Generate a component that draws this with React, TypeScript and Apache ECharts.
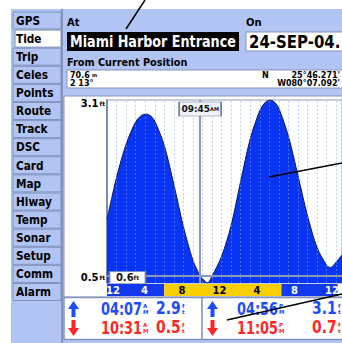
import React, { useEffect, useRef } from "react";
import * as echarts from "echarts";

// ---------- data ----------
const tabs = ["GPS", "Tide", "Trip", "Celes", "Points", "Route", "Track", "DSC", "Card", "Map", "Hiway", "Temp", "Sonar", "Setup", "Comm", "Alarm"];
const activeTab = "Tide";
const stationName = "Miami Harbor Entrance";
const dateLabel = "24-SEP-04.";
const distanceLabel = "70.6";
const bearingLabel = "2 13°";
const latHemi = "N";
const latLabel = "25°46.271'";
const lonLabel = "W080°07.092'";

const tideHours = [0, 1, 2, 3, 3.6, 4.1, 4.6, 5, 6, 7, 8, 9, 9.75, 10, 10.5, 11, 12, 13, 14, 15, 16, 16.6, 17.1, 17.6, 18, 19, 20, 21, 22, 23, 23.4, 24, 24.6];
const tideFeet = [1.40, 2.00, 2.47, 2.79, 2.88, 2.90, 2.87, 2.80, 2.45, 1.90, 1.30, 0.82, 0.60, 0.56, 0.50, 0.60, 0.88, 1.32, 1.95, 2.55, 2.95, 3.07, 3.10, 3.06, 2.98, 2.58, 2.02, 1.45, 1.00, 0.75, 0.72, 0.80, 0.90];

const yMin = 0.5;
const yMax = 3.1;
const xMax = 24.6;

const gridHours = [1, 2, 3, 4, 5, 6, 7, 8, 9, 10, 11, 12, 13, 14, 15, 16, 17, 18, 19, 20, 21, 22, 23, 24];

const cursorTime = 9.75;
const cursorLabel = "09:45";
const cursorMer = "AM";
const cursorFeet = 0.6;

const daylight = [6.1, 18.6];
const hourTicks = [0, 4, 8, 12, 16, 20, 24];
const hourLabels = ["12", "4", "8", "12", "4", "8", "12"];

const highTimes = ["04:07", "04:56"];
const highMer = ["AM", "PM"];
const highFeet = [2.9, 3.1];
const lowTimes = ["10:31", "11:05"];
const lowMer = ["AM", "PM"];
const lowFeet = [0.5, 0.7];

// ---------- styles ----------
const FONT = "'DejaVu Sans', 'Liberation Sans', sans-serif";
const PANEL = "#b1c4f3";
const EDGE = "#8393bd";
const FILL = "#0835f5";
const NIGHT = "#1238f0";
const DAY = "#f7cf00";
const BLUE_TXT = "#1d4bff";
const RED_TXT = "#ff2626";

function txt(text: string, x: number, y: number, size: number, extra: any = {}) {
  const { fill = "#000", align = "left", scaleX = 1, z = 50, weight = "bold" } = extra;
  return {
    type: "text",
    x,
    y,
    z,
    scaleX,
    silent: true,
    style: { text, fill, fontSize: size, fontWeight: weight, fontFamily: FONT, align, verticalAlign: "middle" },
  };
}

function arrow(x: number, y: number, up: boolean, color: string) {
  const w = 11, h = 16, hh = 8, s = 2;
  const c = x + w / 2;
  const pts = up
    ? [[c, y], [x + w, y + hh], [c + s, y + hh], [c + s, y + h], [c - s, y + h], [c - s, y + hh], [x, y + hh]]
    : [[c, y + h], [x + w, y + h - hh], [c + s, y + h - hh], [c + s, y], [c - s, y], [c - s, y + h - hh], [x, y + h - hh]];
  return { type: "polygon", z: 50, silent: true, shape: { points: pts }, style: { fill: color } };
}

function buildGraphic() {
  const g: any[] = [];
  g.push({ type: "rect", z: -10, silent: true, shape: { x: 11, y: 9, width: 331, height: 334 }, style: { fill: PANEL } });
  tabs.forEach((t, i) => {
    const y = 12 + i * 18.1;
    const active = t === activeTab;
    g.push({
      type: "rect", z: -8, silent: true,
      shape: { x: active ? 15 : 13, y, width: active ? 46 : 48, height: 17 },
      style: { fill: active ? "#ffffff" : PANEL, stroke: EDGE, lineWidth: 1 },
    });
    g.push(txt(t, 16, y + 9, 12, { scaleX: 0.88 }));
  });
  g.push({ type: "line", z: -7, silent: true, shape: { x1: 62, y1: 9, x2: 62, y2: 343 }, style: { stroke: "#7585b0", lineWidth: 1.5 } });

  g.push(txt("At", 67, 22, 10));
  g.push({ type: "rect", z: -6, silent: true, shape: { x: 67, y: 32, width: 172, height: 19 }, style: { fill: "#000" } });
  g.push(txt(stationName, 70, 42, 15, { fill: "#fff", scaleX: 0.85 }));
  g.push(txt("On", 246, 22, 10));
  g.push({ type: "rect", z: -6, silent: true, shape: { x: 246, y: 32, width: 100, height: 19 }, style: { fill: "#fff", stroke: EDGE, lineWidth: 1 } });
  g.push(txt(dateLabel, 249, 42, 17, { scaleX: 0.88 }));

  g.push(txt("From Current Position", 67, 62, 10, { scaleX: 0.97 }));
  g.push({ type: "rect", z: -6, silent: true, shape: { x: 67, y: 70, width: 280, height: 18 }, style: { fill: "#fff", stroke: EDGE, lineWidth: 1 } });
  g.push(txt(distanceLabel, 70, 75, 8));
  g.push(txt("m", 92, 75, 5));
  g.push(txt(bearingLabel, 70, 83, 8));
  g.push(txt(latHemi, 262, 75, 8));
  g.push(txt(latLabel, 340, 75, 8, { align: "right" }));
  g.push(txt(lonLabel, 340, 83, 8, { align: "right" }));

  g.push({ type: "rect", z: -6, silent: true, shape: { x: 64, y: 96, width: 285, height: 201 }, style: { fill: "#fff", stroke: EDGE, lineWidth: 1 } });
  g.push({ type: "rect", z: -6, silent: true, shape: { x: 64, y: 297.5, width: 285, height: 42 }, style: { fill: "#fff", stroke: EDGE, lineWidth: 1.5 } });
  g.push({ type: "line", z: -5, silent: true, shape: { x1: 202, y1: 298, x2: 202, y2: 339 }, style: { stroke: "#9aaad0", lineWidth: 2 } });

  const rows = [
    { up: true, times: highTimes, mers: highMer, feet: highFeet, color: BLUE_TXT, y: 309 },
    { up: false, times: lowTimes, mers: lowMer, feet: lowFeet, color: RED_TXT, y: 328 },
  ];
  const cols = [
    { arrow: 68, time: 101, feet: 156 },
    { arrow: 207, time: 237, feet: 312 },
  ];
  rows.forEach((r) => {
    cols.forEach((c, j) => {
      g.push(arrow(c.arrow, r.y - 8, r.up, r.color));
      g.push(txt(r.times[j], c.time, r.y, 17, { fill: r.color, scaleX: 0.76 }));
      g.push(txt(r.mers[j].charAt(0), c.time + 42, r.y - 3, 5.5, { fill: r.color }));
      g.push(txt(r.mers[j].charAt(1), c.time + 42, r.y + 3, 5.5, { fill: r.color }));
      g.push(txt(r.feet[j].toFixed(1), c.feet, r.y, 17, { fill: r.color, scaleX: 0.82 }));
      g.push(txt("f", c.feet + 26, r.y - 3, 5.5, { fill: r.color }));
      g.push(txt("t", c.feet + 26, r.y + 3, 5.5, { fill: r.color }));
    });
  });

  const lines = [
    [145, 0, 126, 29],
    [342, 163, 269, 177],
    [342, 294, 227, 320],
  ];
  lines.forEach(([x1, y1, x2, y2]) => {
    g.push({ type: "line", z: 120, silent: true, shape: { x1, y1, x2, y2 }, style: { stroke: "#000", lineWidth: 1.5 } });
  });
  return g;
}

function buildOption(): any {
  const isDay = (v: number) => v >= daylight[0] && v <= daylight[1];
  return {
    animation: false,
    backgroundColor: "#ffffff",
    grid: [
      { left: 107, top: 100, width: 235, height: 183, show: true, backgroundColor: "#ffffff", borderColor: "#8c9cc0", borderWidth: 1 },
      { left: 107, top: 284, width: 235, height: 12, show: false },
    ],
    xAxis: [
      {
        type: "value", gridIndex: 0, min: 0, max: xMax, interval: 1,
        axisLine: { show: false }, axisTick: { show: false }, axisLabel: { show: false },
        splitLine: { show: false },
      },
      {
        type: "value", gridIndex: 1, min: 0, max: xMax, z: 10,
        axisLine: { show: false }, axisTick: { show: false }, splitLine: { show: false },
        axisLabel: {
          inside: true, margin: 1, customValues: hourTicks,
          formatter: (v: number) => {
            const i = hourTicks.indexOf(Number(v));
            const s = i >= 0 ? hourLabels[i] : "";
            return i === 0 ? `{f|${s}}` : s;
          },
          rich: { f: { padding: [0, 0, 0, 12], fontWeight: "bold", fontSize: 10, fontFamily: FONT } },
          color: (v: any) => (isDay(Number(v)) ? "#000" : "#fff"),
          fontFamily: FONT, fontWeight: "bold", fontSize: 10,
        },
      },
    ],
    yAxis: [
      {
        type: "value", gridIndex: 0, min: yMin, max: yMax,
        axisLine: { show: true, lineStyle: { color: "#7d8db2", width: 2 } },
        axisTick: { show: false }, splitLine: { show: false },
        axisLabel: {
          customValues: [yMin, yMax], margin: 2,
          formatter: (v: number) => {
            const top = Number(v) >= yMax - 1e-6;
            const k = top ? "t" : "b";
            return `{n${k}|${Number(v).toFixed(1)}}{u${k}|ft}`;
          },
          rich: {
            nt: { fontSize: 10, fontWeight: "bold", fontFamily: FONT, color: "#000", padding: [7, 0, 0, 0] },
            ut: { fontSize: 6, fontWeight: "bold", fontFamily: FONT, color: "#000", padding: [7, 0, 0, 1] },
            nb: { fontSize: 10, fontWeight: "bold", fontFamily: FONT, color: "#000", padding: [0, 0, 12, 0] },
            ub: { fontSize: 6, fontWeight: "bold", fontFamily: FONT, color: "#000", padding: [0, 0, 12, 1] },
          },
        },
      },
      { type: "value", gridIndex: 1, min: 0, max: 1, show: false },
    ],
    series: [
      {
        type: "line", xAxisIndex: 0, yAxisIndex: 0,
        data: tideHours.map((h, i) => [h, tideFeet[i]]),
        showSymbol: false, smooth: 0.3, z: 2,
        lineStyle: { color: "#0b1a5a", width: 1 },
        areaStyle: { color: FILL, opacity: 1, origin: "start" },
      },
      {
        type: "line", xAxisIndex: 0, yAxisIndex: 0, data: [[0, yMin]], showSymbol: false,
        lineStyle: { opacity: 0 }, silent: true, z: 3,
        markLine: {
          silent: true, symbol: "none", label: { show: false },
          data: [
            ...gridHours.map((h) => ({ xAxis: h, lineStyle: { color: "#8aa6f4", opacity: 0.5, width: 1, type: [2, 2] } })),
            { xAxis: cursorTime, lineStyle: { color: "#8a9abb", width: 2, type: "solid" } },
            { yAxis: cursorFeet, lineStyle: { color: "#8a9abb", width: 2, type: "solid" } },
          ],
        },
        markPoint: {
          silent: true,
          data: [
            {
              coord: [cursorTime, yMax], symbol: "rect", symbolSize: [42, 14], symbolOffset: [0, 9],
              itemStyle: { color: "#eef1f7", borderColor: "#6f7f9f", borderWidth: 1 },
              label: {
                show: true, position: "inside", formatter: `{t|${cursorLabel}}{u|${cursorMer}}`,
                rich: {
                  t: { fontSize: 9, fontWeight: "bold", fontFamily: FONT, color: "#111" },
                  u: { fontSize: 5, fontWeight: "bold", fontFamily: FONT, color: "#111" },
                },
              },
            },
            {
              coord: [0, cursorFeet], symbol: "rect", symbolSize: [36, 12], symbolOffset: [20.5, 1.5],
              itemStyle: { color: "#ffffff", borderColor: "#6f7f9f", borderWidth: 1 },
              label: {
                show: true, position: "inside", formatter: `{t|${cursorFeet.toFixed(1)}}{u|ft}`,
                rich: {
                  t: { fontSize: 10, fontWeight: "bold", fontFamily: FONT, color: "#111" },
                  u: { fontSize: 6, fontWeight: "bold", fontFamily: FONT, color: "#111" },
                },
              },
            },
          ],
        },
      },
      {
        type: "line", xAxisIndex: 1, yAxisIndex: 1, data: [[0, 0]], showSymbol: false,
        lineStyle: { opacity: 0 }, silent: true, z: 2,
        markArea: {
          silent: true,
          data: [
            [{ xAxis: 0, itemStyle: { color: NIGHT } }, { xAxis: daylight[0] }],
            [{ xAxis: daylight[0], itemStyle: { color: DAY } }, { xAxis: daylight[1] }],
            [{ xAxis: daylight[1], itemStyle: { color: NIGHT } }, { xAxis: xMax }],
          ],
        },
      },
    ],
    graphic: buildGraphic(),
  };
}

export default function App() {
  const ref = useRef<HTMLDivElement>(null);
  useEffect(() => {
    const el = ref.current;
    if (!el) return;
    const chart = echarts.init(el, undefined, { renderer: "svg" });
    chart.setOption(buildOption());
    return () => chart.dispose();
  }, []);
  return <div ref={ref} style={{ position: "fixed", left: 0, top: 0, width: 342, height: 343, background: "#fff" }} />;
}
